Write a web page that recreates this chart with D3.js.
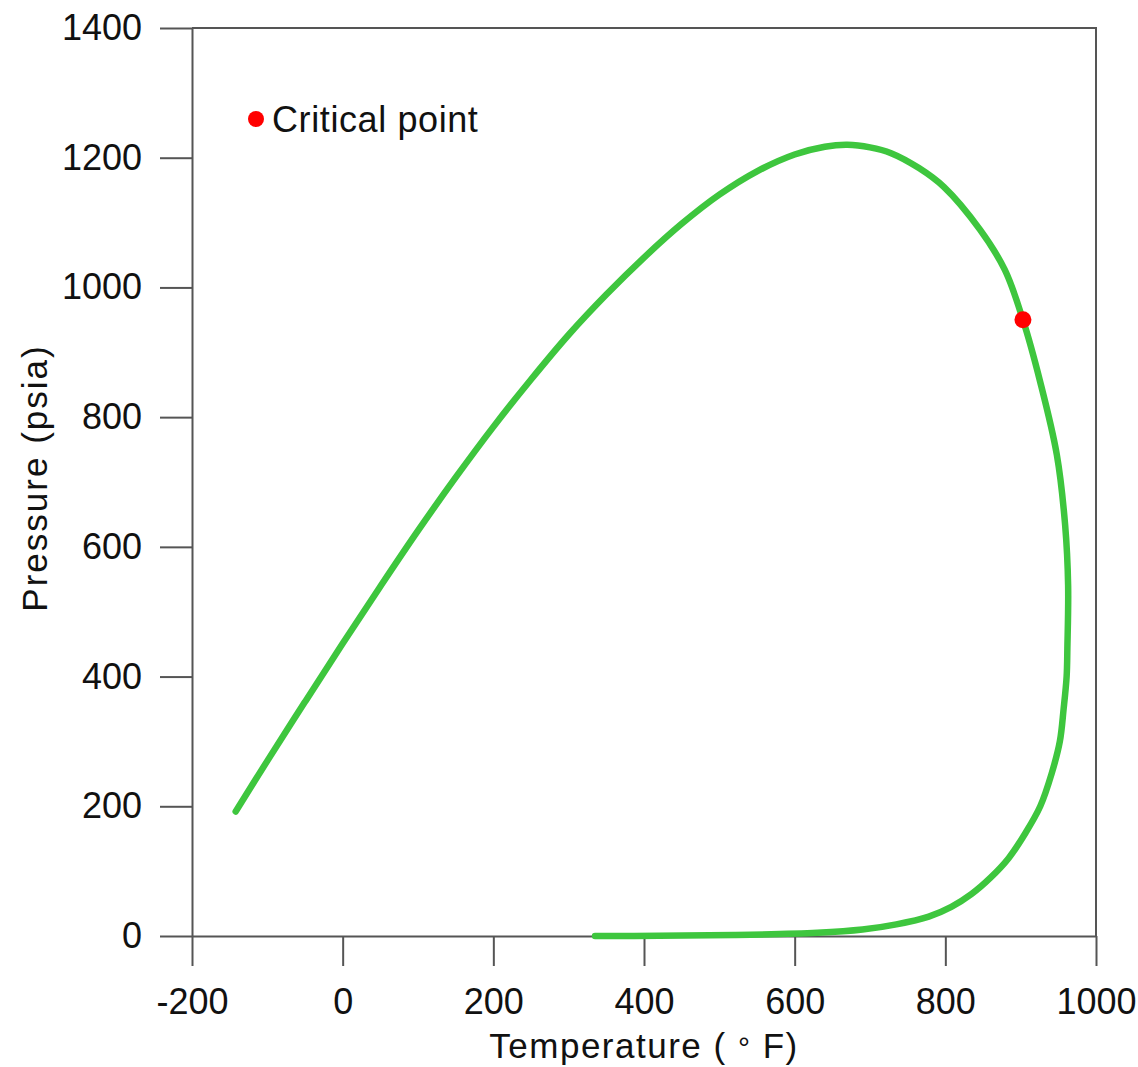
<!DOCTYPE html>
<html>
<head>
<meta charset="utf-8">
<script src="https://cdn.jsdelivr.net/npm/d3@7"></script>
<style>
  body { margin: 0; background: #fff; }
  text { font-family: "Liberation Sans", Arial, sans-serif; fill: #111; }
</style>
</head>
<body>
<div id="chart"></div>
<script>

// phase envelope: temperature (F), pressure (psia)
// bubble-point side up to the top, then dew-point side back down
const temperature = [-142, -100, -50, 0, 50, 100, 150, 200, 250, 300, 350, 400, 450, 500, 550, 600, 640, 670,
                     700, 728, 765, 798, 846, 879,
                     903, 926, 948, 959, 963, 962, 961, 957, 952, 941, 926, 907, 884, 860, 835, 808, 778, 735, 690, 630, 520, 420, 335]
const pressure    = [192, 270, 361, 451, 539, 625, 707, 785, 858, 927, 989, 1046, 1098, 1143, 1179, 1205, 1217, 1220,
                     1216, 1207, 1184, 1155, 1089, 1027,
                     950, 854, 742, 634, 540, 444, 400, 350, 300, 250, 200, 160, 120, 90, 65, 45, 30, 18, 10, 5, 1.5, 0.3, 0]

const critical = {t: 903, p: 950}

const xTicks = [-200, 0, 200, 400, 600, 800, 1000]
const yTicks = [0, 200, 400, 600, 800, 1000, 1200, 1400]

// chart setting
const chart = {
  'width' : 1138,
  'height' : 1067,
  'left' : 192,
  'right' : 1096,
  'top' : 28,
  'bottom' : 936
}

const xScale = d3.scaleLinear()
    .domain([-200, 1000])
    .range([chart.left, chart.right])

const yScale = d3.scaleLinear()
    .domain([0, 1400])
    .range([chart.bottom, chart.top])

const svg = d3.select('#chart')
  .append('svg')
    .attr('width', chart.width)
    .attr('height', chart.height)

const fmt = d => String(d)

// x axis
const xAxis = svg.append('g')
    .attr('transform', `translate(0,${chart.bottom})`)
    .call(d3.axisBottom(xScale).tickValues(xTicks).tickFormat(fmt)
      .tickSize(30).tickSizeOuter(0).tickPadding(22))
xAxis.select('.domain').attr('stroke', '#555').attr('stroke-width', 2)
xAxis.selectAll('.tick line').attr('stroke', '#555').attr('stroke-width', 2)
xAxis.selectAll('.tick text').attr('font-size', 36).attr('fill', '#111')
    .style('font-family', '"Liberation Sans", Arial, sans-serif')

// y axis
const yAxis = svg.append('g')
    .attr('transform', `translate(${chart.left},0)`)
    .call(d3.axisLeft(yScale).tickValues(yTicks).tickFormat(fmt)
      .tickSize(32).tickSizeOuter(0).tickPadding(18))
yAxis.select('.domain').attr('stroke', '#555').attr('stroke-width', 2)
yAxis.selectAll('.tick line').attr('stroke', '#555').attr('stroke-width', 2)
yAxis.selectAll('.tick text').attr('font-size', 36).attr('fill', '#111')
    .style('font-family', '"Liberation Sans", Arial, sans-serif')

// top and right frame
svg.append('path')
    .attr('d', `M${chart.left},${chart.top}H${chart.right}V${chart.bottom}`)
    .attr('fill', 'none')
    .attr('stroke', '#555')
    .attr('stroke-width', 2)

// axis titles
const xTitle = svg.append('text')
    .attr('x', (chart.left + chart.right) / 2)
    .attr('y', 1058)
    .attr('text-anchor', 'middle')
    .attr('font-size', 35)
    .attr('letter-spacing', 1.5)
xTitle.append('tspan').text('Temperature ( ')
xTitle.append('tspan').attr('font-size', 30).text('\u00b0')
xTitle.append('tspan').text(' F)')

svg.append('text')
    .attr('transform', `translate(47,${(chart.top + chart.bottom) / 2 - 4}) rotate(-90)`)
    .attr('text-anchor', 'middle')
    .attr('font-size', 35)
    .attr('letter-spacing', 2)
    .text('Pressure (psia)')

// envelope
const points = temperature.map((t, i) => [t, pressure[i]])

const line = d3.line()
    .x(d => xScale(d[0]))
    .y(d => yScale(d[1]))
    .curve(d3.curveCatmullRom)

svg.append('path')
    .datum(points)
    .attr('d', line)
    .attr('fill', 'none')
    .attr('stroke', '#3ec63e')
    .attr('stroke-width', 6.5)
    .attr('stroke-linecap', 'round')
    .attr('stroke-linejoin', 'round')

// critical point
svg.append('circle')
    .attr('cx', xScale(critical.t))
    .attr('cy', yScale(critical.p))
    .attr('r', 8.5)
    .attr('fill', '#f00')

// legend
svg.append('circle')
    .attr('cx', 256)
    .attr('cy', 119)
    .attr('r', 8)
    .attr('fill', '#f00')

svg.append('text')
    .attr('x', 272)
    .attr('y', 132)
    .attr('font-size', 36)
    .attr('letter-spacing', 0.6)
    .text('Critical point')

</script>
</body>
</html>
